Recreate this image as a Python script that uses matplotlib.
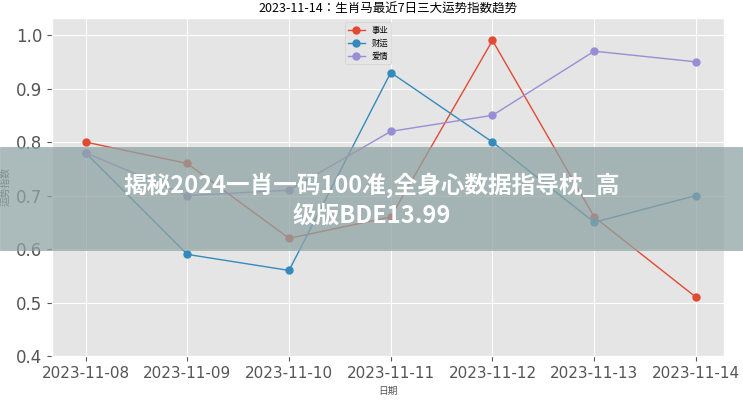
import matplotlib
matplotlib.use("Agg")
import matplotlib.pyplot as plt
from matplotlib import font_manager as fm

plt.style.use("ggplot")
cjk = [f.name for f in fm.fontManager.ttflist if "CJK" in f.name]
cjk_name = "Noto Sans CJK SC" if "Noto Sans CJK SC" in cjk else (cjk[0] if cjk else "DejaVu Sans")
plt.rcParams["font.family"] = "sans-serif"
plt.rcParams["font.sans-serif"] = ["DejaVu Sans", cjk_name]

dates = ["2023-11-08", "2023-11-09", "2023-11-10", "2023-11-11", "2023-11-12", "2023-11-13", "2023-11-14"]
career = [0.80, 0.76, 0.62, 0.66, 0.99, 0.66, 0.51]
wealth = [0.78, 0.59, 0.56, 0.93, 0.80, 0.65, 0.70]
love = [0.78, 0.70, 0.71, 0.82, 0.85, 0.97, 0.95]

fig = plt.figure(figsize=(7.43, 4.0), dpi=100)
ax = fig.add_axes([0.07, 0.11, 0.905, 0.845])
x = range(len(dates))
ax.plot(x, career, marker="o", color="#E24A33", lw=1, ms=5, label="事业")
ax.plot(x, wealth, marker="o", color="#348ABD", lw=1, ms=5, label="财运")
ax.plot(x, love, marker="o", color="#988ED5", lw=1, ms=5, label="爱情")
ax.set_xticks(list(x))
ax.set_xticklabels(dates, fontsize=11)
ax.set_ylim(0.4, 1.032)
ax.set_yticks([0.4, 0.5, 0.6, 0.7, 0.8, 0.9, 1.0])
ax.set_yticklabels(["0.4", "0.5", "0.6", "0.7", "0.8", "0.9", "1.0"], fontsize=12)
ax.set_xlim(-0.33, 6.28)
ax.set_title("2023-11-14：生肖马最近7日三大运势指数趋势", fontsize=9, pad=4, fontfamily=cjk_name)
ax.set_xlabel("日期", fontsize=7, fontfamily=cjk_name)
ax.set_ylabel("运势指数", fontsize=7, fontfamily=cjk_name)
ax.legend(loc="upper center", bbox_to_anchor=(0.47, 1.0), prop={"family": cjk_name, "size": 6})

fig.patches.append(plt.Rectangle((0, 0.375), 1, 0.257, transform=fig.transFigure,
                                 color="#8fa3a3", alpha=0.75, zorder=10))
fig.text(0.5, 0.5, "揭秘2024一肖一码100准,全身心数据指导枕_高\n级版BDE13.99", ha="center", va="center",
         fontsize=17, fontweight="bold", color="white", zorder=11, linespacing=1.3, fontfamily=cjk_name)
fig.savefig("out.png")
